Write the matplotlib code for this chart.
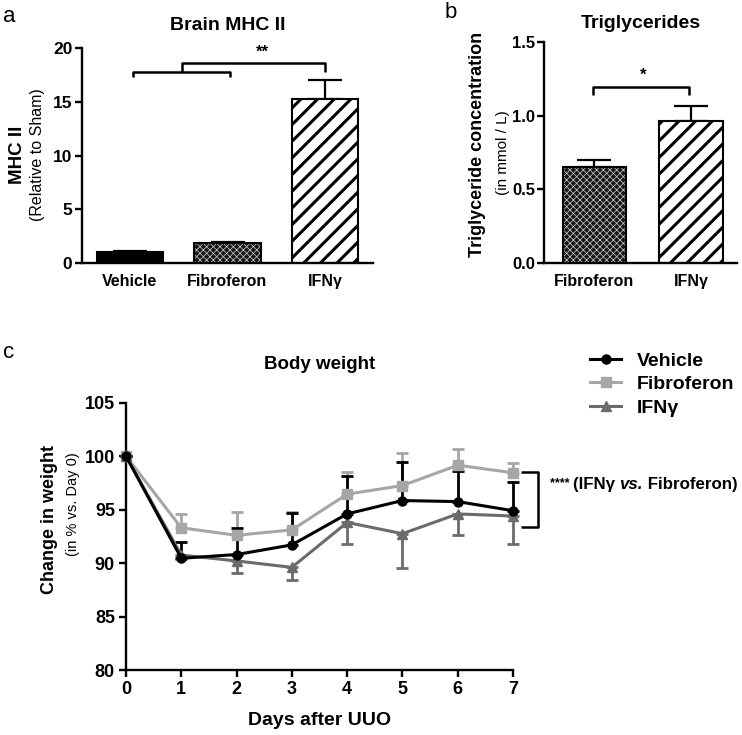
import matplotlib
matplotlib.use("Agg")
import matplotlib.pyplot as plt
from matplotlib.lines import Line2D
import numpy as np

plt.rcParams['font.family'] = ['Liberation Sans', 'DejaVu Sans']
plt.rcParams['hatch.linewidth'] = 2.2

# ---- data ----
mhc_groups = ["Vehicle", "Fibroferon", "IFNγ"]
mhc_mean = [1.0, 1.82, 15.3]
mhc_sem = [0.1, 0.18, 1.75]

tg_groups = ["Fibroferon", "IFNγ"]
tg_mean = [0.65, 0.965]
tg_sem = [0.05, 0.10]

days = [0, 1, 2, 3, 4, 5, 6, 7]
veh_mean = [100.0, 90.45, 90.8, 91.7, 94.6, 95.85, 95.75, 94.9]
veh_err = [0.0, 1.55, 2.5, 3.0, 3.5, 3.6, 2.85, 2.7]
fib_mean = [100.0, 93.3, 92.6, 93.1, 96.45, 97.25, 99.15, 98.45]
fib_err = [0.0, 1.25, 2.15, 1.7, 2.05, 3.0, 1.55, 0.9]
ifn_mean = [100.0, 90.75, 90.2, 89.6, 93.8, 92.75, 94.6, 94.4]
ifn_err = [0.0, 0.4, 1.1, 1.2, 2.05, 3.25, 1.95, 2.6]

W, H = 742, 735
fig = plt.figure(figsize=(W / 100, H / 100), dpi=100)

def fx(px):
    return px / W

def fy(py):
    return 1 - py / H

def style_axes(ax, lw=1.7):
    for s in ['top', 'right']:
        ax.spines[s].set_visible(False)
    for s in ['left', 'bottom']:
        ax.spines[s].set_linewidth(lw)
    ax.tick_params(width=lw, length=5, direction='out')

BLACK = 'black'

def draw_bar(ax, x, h, width, kind):
    if kind == 'solid':
        ax.bar(x, h, width, color=BLACK, edgecolor=BLACK, linewidth=1.5, zorder=2)
    elif kind == 'dots':
        ax.bar(x, h, width, color='#161616', edgecolor=BLACK, linewidth=0, zorder=2)
        with plt.rc_context({'hatch.linewidth': 0.55}):
            ax.bar(x, h, width, color='none', edgecolor='#c4c4c4', hatch='xxxxx',
                   linewidth=0, zorder=3)
        ax.bar(x, h, width, color='none', edgecolor=BLACK, linewidth=1.5, zorder=4)
    elif kind == 'stripes':
        ax.bar(x, h, width, color='white', edgecolor=BLACK, hatch='//', linewidth=1.5, zorder=2)

# ---- panel a ----
axa = fig.add_axes([fx(82), fy(263), fx(373) - fx(82), fy(48) - fy(263)])
style_axes(axa)
xa = np.arange(len(mhc_groups))
kinds_a = ['solid', 'dots', 'stripes']
for i in range(len(mhc_groups)):
    draw_bar(axa, xa[i], mhc_mean[i], 0.68, kinds_a[i])
axa.errorbar(xa, mhc_mean, yerr=[[0] * 3, mhc_sem], fmt='none', ecolor=BLACK,
             elinewidth=1.6, capsize=12, capthick=1.6, zorder=1)
axa.set_xlim(-0.49, 2.49)
axa.set_ylim(0, 20)
axa.set_yticks([0, 5, 10, 15, 20])
axa.set_xticks(xa)
axa.set_xticklabels(mhc_groups, fontsize=11.5, fontweight='bold')
axa.tick_params(axis='x', length=0, pad=8)
axa.tick_params(axis='y', labelsize=12.5, pad=2)
for lab in axa.get_yticklabels():
    lab.set_fontweight('bold')
# brackets
kw = dict(color=BLACK, lw=1.8, clip_on=False, solid_capstyle='butt')
axa.plot([0.03, 0.03, 1.03, 1.03], [17.3, 17.8, 17.8, 17.3], **kw)
axa.plot([0.53, 0.53, 2.0, 2.0], [17.8, 18.6, 18.6, 17.8], **kw)
axa.text(1.36, 18.9, "**", ha='center', va='bottom', fontsize=12, fontweight='bold')
axa.set_title("Brain MHC II", fontsize=14, fontweight='bold', pad=13)
fig.text(fx(17), fy(155), "MHC II", rotation=90, ha='center', va='center',
         fontsize=13.5, fontweight='bold')
fig.text(fx(38), fy(155), "(Relative to Sham)", rotation=90, ha='center', va='center',
         fontsize=11.5)
fig.text(fx(3), fy(16), "a", fontsize=16, ha='left', va='center')

# ---- panel b ----
axb = fig.add_axes([fx(544), fy(263.3), fx(737) - fx(544), fy(41.7) - fy(263.3)])
style_axes(axb)
xb = np.arange(len(tg_groups))
kinds_b = ['dots', 'stripes']
for i in range(len(tg_groups)):
    draw_bar(axb, xb[i], tg_mean[i], 0.66, kinds_b[i])
axb.errorbar(xb, tg_mean, yerr=[[0] * 2, tg_sem], fmt='none', ecolor=BLACK,
             elinewidth=1.6, capsize=12, capthick=1.6, zorder=1)
axb.set_xlim(-0.523, 1.477)
axb.set_ylim(0, 1.5)
axb.set_yticks([0.0, 0.5, 1.0, 1.5])
axb.set_yticklabels(["0.0", "0.5", "1.0", "1.5"])
axb.set_xticks(xb)
axb.set_xticklabels(tg_groups, fontsize=11.5, fontweight='bold')
axb.tick_params(axis='x', length=0, pad=8)
axb.tick_params(axis='y', labelsize=12, pad=1.5)
for lab in axb.get_yticklabels():
    lab.set_fontweight('bold')
axb.plot([-0.02, -0.02, 0.98, 0.98], [1.14, 1.19, 1.19, 1.14], **kw)
axb.text(0.5, 1.22, "*", ha='center', va='bottom', fontsize=12, fontweight='bold')
axb.set_title("Triglycerides", fontsize=14, fontweight='bold', pad=10)
fig.text(fx(477), fy(144), "Triglyceride concentration", rotation=90, ha='center',
         va='center', fontsize=13, fontweight='bold')
fig.text(fx(503), fy(153), "(in mmol / L)", rotation=90, ha='center', va='center',
         fontsize=11)
fig.text(fx(445), fy(12), "b", fontsize=16, ha='left', va='center')

# ---- panel c ----
axc = fig.add_axes([fx(126), fy(670), fx(513) - fx(126), fy(402.7) - fy(670)])
style_axes(axc)
series = [
    ("Fibroferon", fib_mean, fib_err, '#a6a6a6', 's', 'up'),
    ("IFNγ", ifn_mean, ifn_err, '#6b6b6b', '^', 'down'),
    ("Vehicle", veh_mean, veh_err, BLACK, 'o', 'up'),
]
for name, m, e, c, mk, d in series:
    if d == 'up':
        yerr = [[0] * len(e), e]
    else:
        yerr = [e, [0] * len(e)]
    axc.errorbar(days, m, yerr=yerr, color=c, ecolor=c, marker=mk, markersize=6.5,
                 lw=2.2, elinewidth=2.0, capsize=4, capthick=2.0, clip_on=False, zorder=3)
axc.set_xlim(0, 7)
axc.set_ylim(80, 105)
axc.set_xticks(days)
axc.set_yticks([80, 85, 90, 95, 100, 105])
axc.tick_params(labelsize=13, pad=3)
for lab in axc.get_xticklabels() + axc.get_yticklabels():
    lab.set_fontweight('bold')
axc.set_xlabel("Days after UUO", fontsize=14, fontweight='bold', labelpad=10)
axc.set_title("Body weight", fontsize=13.5, fontweight='bold', pad=24)
fig.text(fx(50), fy(519), "Change in weight", rotation=90, ha='center', va='center',
         fontsize=13, fontweight='bold')
fig.text(fx(73), fy(504), "(in % vs. Day 0)", rotation=90, ha='center', va='center',
         fontsize=10.5)
fig.text(fx(3), fy(352), "c", fontsize=16, ha='left', va='center')

# significance bracket
axc.plot([7.15, 7.45, 7.45, 7.15], [98.5, 98.5, 93.4, 93.4], color=BLACK, lw=1.8,
         clip_on=False, solid_capstyle='butt')
t2 = axc.text(8.08, 96.95, "(IFNγ ", fontsize=12.2, fontweight='bold',
              ha='left', va='baseline')
t1 = axc.annotate("**** ", xy=(0, 1), xycoords=t2, xytext=(0, -1),
                  textcoords='offset points', fontsize=9, fontweight='bold',
                  ha='right', va='top')
t3 = axc.annotate("vs.", xy=(1, 0), xycoords=t2, fontsize=12.2, fontweight='bold',
                  style='italic', ha='left', va='bottom')
t4 = axc.annotate(" Fibroferon)", xy=(1, 0), xycoords=t3, fontsize=12.2,
                  fontweight='bold', ha='left', va='bottom')

# legend
handles = [
    Line2D([], [], color=BLACK, marker='o', markersize=6.5, lw=2.2),
    Line2D([], [], color='#a6a6a6', marker='s', markersize=6.5, lw=2.2),
    Line2D([], [], color='#6b6b6b', marker='^', markersize=6.5, lw=2.2),
]
leg = fig.legend(handles, ["Vehicle", "Fibroferon", "IFNγ"], loc='upper left',
                 bbox_to_anchor=(fx(590), fy(352)), frameon=False, borderpad=0,
                 borderaxespad=0, handlelength=1.6, handletextpad=0.8,
                 labelspacing=0.3, prop={'size': 14, 'weight': 'bold'})

fig.savefig("out.png", dpi=100)
